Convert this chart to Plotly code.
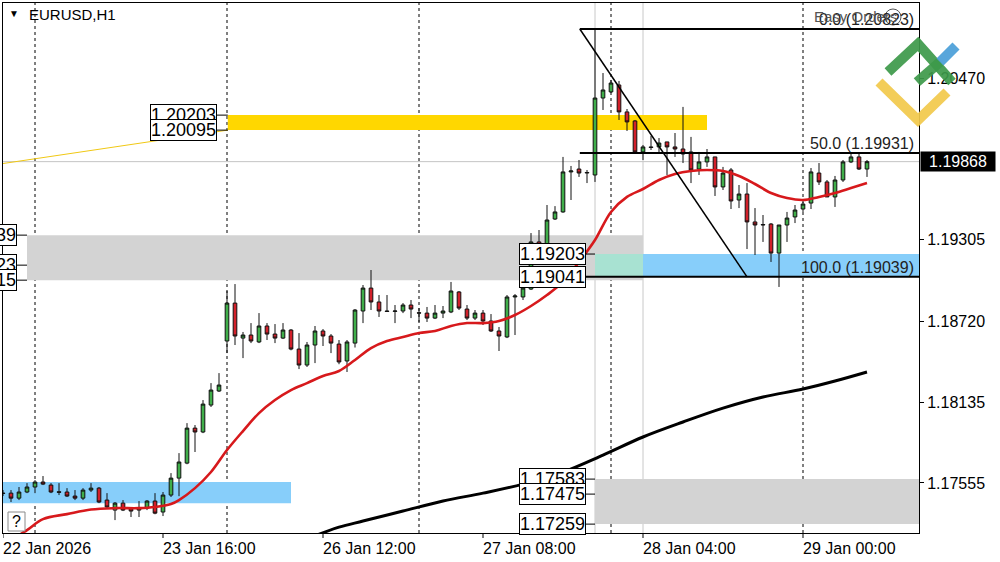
import plotly.graph_objects as go

FONT = "Liberation Sans"

# --- candles: bar index 0 = 22 Jan 20:00 (H1) -------------------------------
bars = list(range(109))

opens = [
    1.17482, 1.17482, 1.17446, 1.17490, 1.17526, 1.17562, 1.17540, 1.17492, 1.17490, 1.17461,
    1.17446, 1.17504, 1.17518, 1.17432, 1.17360, 1.17410, 1.17374, 1.17360, 1.17374, 1.17425,
    1.17346, 1.17468, 1.17590, 1.17698, 1.17950, 1.17922, 1.18116, 1.18217, 1.18577, 1.18850,
    1.18598, 1.18620, 1.18570, 1.18685, 1.18627, 1.18598, 1.18656, 1.18519, 1.18404, 1.18548,
    1.18649, 1.18613, 1.18555, 1.18433, 1.18562, 1.18793, 1.18958, 1.18858, 1.18793, 1.18790,
    1.18793, 1.18836, 1.18780, 1.18778, 1.18742, 1.18778, 1.18786, 1.18930, 1.18807, 1.18742,
    1.18778, 1.18721, 1.18649, 1.18606, 1.18894, 1.18894, 1.18951, 1.19290, 1.19232, 1.19455,
    1.19506, 1.19794, 1.19815, 1.19786, 1.19772, 1.20326, 1.20370, 1.20420, 1.20226, 1.20161,
    1.19938, 1.19974, 1.19974, 1.20010, 1.19974, 1.19959, 1.19938, 1.19815, 1.19866, 1.19902,
    1.19686, 1.19808, 1.19592, 1.19635, 1.19434, 1.19412, 1.19419, 1.19210, 1.19412, 1.19470,
    1.19527, 1.19570, 1.19786, 1.19722, 1.19614, 1.19736, 1.19866, 1.19902, 1.19815,
]
highs = [
    1.17504, 1.17504, 1.17526, 1.17554, 1.17576, 1.17605, 1.17554, 1.17554, 1.17518, 1.17504,
    1.17518, 1.17554, 1.17526, 1.17482, 1.17418, 1.17432, 1.17382, 1.17425, 1.17432, 1.17482,
    1.17490, 1.17626, 1.17770, 1.17986, 1.17972, 1.18152, 1.18274, 1.18346, 1.18937, 1.18987,
    1.18642, 1.18706, 1.18778, 1.18706, 1.18699, 1.18706, 1.18663, 1.18634, 1.18570, 1.18685,
    1.18663, 1.18627, 1.18584, 1.18584, 1.18807, 1.18980, 1.19088, 1.18908, 1.18908, 1.18836,
    1.18850, 1.18872, 1.18814, 1.18822, 1.18836, 1.18829, 1.19002, 1.18937, 1.18836, 1.18800,
    1.18800, 1.18771, 1.18678, 1.18908, 1.18915, 1.18980, 1.19354, 1.19376, 1.19556, 1.19548,
    1.19902, 1.19837, 1.19880, 1.19808, 1.20823, 1.20506, 1.20456, 1.20449, 1.20247, 1.20168,
    1.19988, 1.20053, 1.20038, 1.20010, 1.20074, 1.20262, 1.20046, 1.19938, 1.19959, 1.19902,
    1.19830, 1.19822, 1.19700, 1.19714, 1.19534, 1.19484, 1.19426, 1.19412, 1.19506, 1.19556,
    1.19578, 1.19822, 1.19858, 1.19736, 1.19765, 1.19880, 1.19923, 1.19930, 1.19880,
]
lows = [
    1.17461, 1.17418, 1.17432, 1.17482, 1.17482, 1.17540, 1.17482, 1.17468, 1.17454, 1.17432,
    1.17432, 1.17490, 1.17410, 1.17374, 1.17288, 1.17353, 1.17310, 1.17310, 1.17360, 1.17330,
    1.17317, 1.17454, 1.17460, 1.17690, 1.17778, 1.17914, 1.18102, 1.18210, 1.18490, 1.18548,
    1.18454, 1.18562, 1.18562, 1.18584, 1.18562, 1.18591, 1.18510, 1.18375, 1.18390, 1.18418,
    1.18541, 1.18490, 1.18410, 1.18354, 1.18530, 1.18706, 1.18800, 1.18750, 1.18786, 1.18706,
    1.18778, 1.18742, 1.18714, 1.18714, 1.18735, 1.18742, 1.18778, 1.18800, 1.18728, 1.18728,
    1.18692, 1.18642, 1.18505, 1.18598, 1.18620, 1.18872, 1.18944, 1.19218, 1.19225, 1.19448,
    1.19500, 1.19592, 1.19758, 1.19714, 1.19722, 1.20240, 1.20362, 1.20168, 1.20089, 1.19930,
    1.19880, 1.19952, 1.19930, 1.19772, 1.19902, 1.19858, 1.19714, 1.19772, 1.19830, 1.19621,
    1.19664, 1.19527, 1.19534, 1.19239, 1.19196, 1.19290, 1.19146, 1.18966, 1.19290, 1.19426,
    1.19506, 1.19527, 1.19700, 1.19614, 1.19542, 1.19722, 1.19858, 1.19808, 1.19758,
]
closes = [
    1.17480, 1.17446, 1.17490, 1.17526, 1.17562, 1.17547, 1.17490, 1.17488, 1.17461, 1.17446,
    1.17504, 1.17518, 1.17418, 1.17382, 1.17410, 1.17360, 1.17353, 1.17374, 1.17425, 1.17338,
    1.17468, 1.17590, 1.17706, 1.17950, 1.17922, 1.18123, 1.18224, 1.18260, 1.18850, 1.18613,
    1.18620, 1.18577, 1.18685, 1.18627, 1.18598, 1.18656, 1.18519, 1.18404, 1.18548, 1.18649,
    1.18613, 1.18562, 1.18426, 1.18570, 1.18800, 1.18958, 1.18858, 1.18793, 1.18790, 1.18793,
    1.18836, 1.18807, 1.18778, 1.18742, 1.18778, 1.18793, 1.18937, 1.18814, 1.18742, 1.18778,
    1.18721, 1.18649, 1.18613, 1.18894, 1.18901, 1.18958, 1.19290, 1.19232, 1.19448, 1.19506,
    1.19794, 1.19801, 1.19786, 1.19790, 1.20326, 1.20384, 1.20434, 1.20226, 1.20154, 1.19938,
    1.19974, 1.19970, 1.20002, 1.19974, 1.19959, 1.19923, 1.19808, 1.19866, 1.19902, 1.19686,
    1.19786, 1.19585, 1.19635, 1.19434, 1.19412, 1.19415, 1.19210, 1.19412, 1.19462, 1.19520,
    1.19563, 1.19794, 1.19722, 1.19614, 1.19736, 1.19866, 1.19902, 1.19815, 1.19868,
]

# moving averages
ma_fast_bar = [1, 3, 5, 8, 11, 14, 17, 19, 21, 22, 24, 26, 28, 30, 32, 34, 36, 38, 40, 42,
               44, 46, 48, 50, 52, 54, 56, 58, 60, 62, 64, 66, 68, 70, 72, 74, 76, 78, 80,
               82, 84, 86, 88, 90, 92, 94, 96, 98, 100, 102, 104, 106, 108]
ma_fast_val = [1.17144, 1.17216, 1.17295, 1.17331, 1.17364, 1.17374, 1.17374, 1.17382, 1.17403,
               1.17432, 1.17518, 1.17634, 1.17792, 1.17929, 1.18058, 1.18152, 1.18224, 1.18274,
               1.18325, 1.18361, 1.18440, 1.18526, 1.18577, 1.18606, 1.18634, 1.18649, 1.18685,
               1.18706, 1.18706, 1.18721, 1.18764, 1.18829, 1.18908, 1.19002, 1.19146, 1.19304,
               1.19506, 1.19614, 1.19671, 1.19736, 1.19779, 1.19801, 1.19808, 1.19801, 1.19765,
               1.19707, 1.19642, 1.19606, 1.19592, 1.19614, 1.19642, 1.19678, 1.19714]
ma_slow_bar = [39, 42, 45, 50, 55, 60, 65, 70, 75, 80, 85, 90, 95, 100, 104, 108]
ma_slow_val = [1.17175, 1.17237, 1.17281, 1.17353, 1.17425, 1.17482, 1.17547, 1.17634,
               1.17756, 1.17886, 1.17994, 1.18094, 1.18174, 1.18231, 1.18289, 1.18354]

# axis
price_ticks = [1.17555, 1.18135, 1.18720, 1.19305, 1.20470]
time_tick_bars = [0, 20, 40, 60, 80, 100]
time_tick_text = ["22 Jan 2026", "23 Jan 16:00", "26 Jan 12:00", "27 Jan 08:00",
                  "28 Jan 04:00", "29 Jan 00:00"]
day_separator_bars = [4, 28, 52, 76, 100]
bid_price = 1.19868

# fibonacci (bar, price) anchors
fib_start = (72.1, 1.20823)
fib_end = (93.0, 1.19039)
fib_levels = [0.0, 50.0, 100.0]

# zones: (bar0, bar1, price_low, price_high)
yellow_zone = (28.1, 88.0, 1.20095, 1.20203)
grey_zone = (3.0, 80.0, 1.19015, 1.19339)
blue_zone = (74.0, 130.0, 1.19041, 1.19203)
grey_zone_low = (74.0, 130.0, 1.17259, 1.17583)
blue_zone_low = (-5.0, 36.0, 1.17410, 1.17562)
gold_trend = ((-0.4, 1.19851), (28.1, 1.20095))

X_RANGE = [0, 114.5]
Y_RANGE = [1.17195, 1.21010]

# plot area in pixels: x 3..919, y 3..533
def px(x):
    return (x - 3) / 916


def py(y):
    return (533 - y) / 530


fig = go.Figure()
fig.add_trace(go.Candlestick(
    x=bars, open=opens, high=highs, low=lows, close=closes,
    increasing=dict(line=dict(color="#111111", width=1), fillcolor="#3fae49"),
    decreasing=dict(line=dict(color="#111111", width=1), fillcolor="#d2202a"),
    whiskerwidth=0, showlegend=False, hoverinfo="skip",
))
fig.add_scatter(x=ma_fast_bar, y=ma_fast_val, mode="lines",
                line=dict(color="#d7191c", width=2.6, shape="spline"), showlegend=False)
fig.add_scatter(x=ma_slow_bar, y=ma_slow_val, mode="lines",
                line=dict(color="#000000", width=3, shape="spline"), showlegend=False)

shapes = []


def rect(zone, color):
    b0, b1, lo, hi = zone
    shapes.append(dict(type="rect", xref="x", yref="y", x0=b0, x1=b1, y0=lo, y1=hi,
                       fillcolor=color, line=dict(width=0), layer="below"))


rect(yellow_zone, "#ffd700")
rect(grey_zone, "#d3d3d3")
rect(blue_zone, "#87cefa")
rect(grey_zone_low, "#d3d3d3")
rect(blue_zone_low, "#87cefa")
# overlap of grey and blue zones
rect((blue_zone[0], grey_zone[1], blue_zone[2], blue_zone[3]), "#a8e2d2")

# bid line and vertical guides
shapes.append(dict(type="line", xref="paper", yref="y", x0=0, x1=1, y0=bid_price, y1=bid_price,
                   line=dict(color="#c4c4c4", width=1), layer="below"))
for b in (74, 80):
    shapes.append(dict(type="line", xref="x", yref="paper", x0=b, x1=b, y0=0, y1=1,
                       line=dict(color="#c8c8c8", width=1), layer="below"))
for b in day_separator_bars:
    shapes.append(dict(type="line", xref="x", yref="paper", x0=b, x1=b, y0=0, y1=1,
                       line=dict(color="#000000", width=1, dash="3px,3px"), layer="below"))

# gold trendline
(t0, p0), (t1, p1) = gold_trend
shapes.append(dict(type="line", xref="x", yref="y", x0=t0, y0=p0, x1=t1, y1=p1,
                   line=dict(color="#f0c814", width=1)))

# fibonacci retracement
(fb0, fp0), (fb1, fp1) = fib_start, fib_end
shapes.append(dict(type="line", xref="x", yref="y", x0=fb0, y0=fp0, x1=fb1, y1=fp1,
                   line=dict(color="#000000", width=1.5)))
annotations = []
for lvl in fib_levels:
    price = round(fp0 + (fp1 - fp0) * lvl / 100, 5)
    shapes.append(dict(type="line", xref="x", yref="y", x0=fb0, x1=130, y0=price, y1=price,
                       line=dict(color="#000000", width=2)))
    annotations.append(dict(xref="paper", yref="y", x=1, y=price, xanchor="right",
                            yanchor="bottom", xshift=-3, yshift=-1, showarrow=False,
                            text=f"{lvl:.1f} ({price:.5f})",
                            font=dict(family=FONT, size=16, color="#222222")))


def price_label(bar, price, gap):
    shapes.append(dict(type="line", xref="x", yref="y", x0=bar - gap / 8, x1=bar,
                       y0=price, y1=price, line=dict(color="#000000", width=1)))
    annotations.append(dict(xref="x", yref="y", x=bar, y=price, xanchor="right",
                            yanchor="middle", xshift=-gap, showarrow=False,
                            text=f"{price:.5f}", bgcolor="white", bordercolor="#000000",
                            borderwidth=1, borderpad=0,
                            font=dict(family=FONT, size=18, color="#000000")))


for p in (1.20203, 1.20095):
    price_label(yellow_zone[0], p, 11)
for p in (1.19339, 1.19123, 1.19015):
    price_label(grey_zone[0], p, 10)
for p in (1.19203, 1.19041, 1.17583, 1.17475, 1.17259):
    price_label(74.0, p, 9)

# x axis labels (left aligned, MT4 style) with tick marks
for b, t in zip(time_tick_bars, time_tick_text):
    shapes.append(dict(type="line", xref="x", yref="paper", x0=b, x1=b, y0=0, y1=-5 / 530,
                       line=dict(color="#000000", width=1)))
    annotations.append(dict(xref="x", yref="paper", x=b, y=py(548), xanchor="left",
                            yanchor="middle", showarrow=False, text=t, xshift=-2,
                            font=dict(family=FONT, size=16, color="#000000")))

# current price box
annotations.append(dict(xref="paper", yref="y", x=1, y=bid_price, xanchor="left",
                        yanchor="middle", xshift=1, showarrow=False, text=f"{bid_price:.5f}",
                        bgcolor="#000000", width=74, height=19, borderpad=0,
                        font=dict(family=FONT, size=16, color="#ffffff")))

# title and small widgets
annotations.append(dict(xref="paper", yref="paper", x=px(27), y=py(15), xanchor="left",
                        yanchor="middle", showarrow=False, text="EURUSD,H1",
                        font=dict(family=FONT, size=15, color="#000000")))
annotations.append(dict(xref="paper", yref="paper", x=px(14), y=py(14), xanchor="center",
                        yanchor="middle", showarrow=False, text="▼",
                        font=dict(family=FONT, size=10, color="#000000")))
annotations.append(dict(xref="paper", yref="paper", x=px(812), y=py(17), xanchor="left",
                        yanchor="middle", showarrow=False, text="Easy Orders",
                        font=dict(family=FONT, size=15, color="#555555")))
shapes.append(dict(type="circle", xref="paper", yref="paper", x0=px(885), x1=px(901),
                   y0=py(25), y1=py(9), line=dict(color="#555555", width=1)))
shapes.append(dict(type="rect", xref="paper", yref="paper", x0=px(8), x1=px(25),
                   y0=py(531), y1=py(512), fillcolor="white", line=dict(color="#8a8a8a", width=1)))
annotations.append(dict(xref="paper", yref="paper", x=px(16.5), y=py(521.5), xanchor="center",
                        yanchor="middle", showarrow=False, text="?",
                        font=dict(family=FONT, size=16, color="#000000")))


# logo
def path(points):
    return "M " + " L ".join(f"{px(x)},{py(y)}" for x, y in points)


logo = [
    ([(879, 82), (918, 120), (947, 92)], "#f2c94c"),
    ([(888, 72), (918, 44), (952, 82)], "#3d9a4a"),
    ([(917, 82), (940, 62)], "#3d9a4a"),
    ([(940, 62), (956, 46)], "#4a9fd8"),
]
for pts, color in logo:
    shapes.append(dict(type="path", xref="paper", yref="paper", path=path(pts),
                       line=dict(color=color, width=10), opacity=0.92))

fig.update_layout(
    width=1000, height=562,
    margin=dict(l=3, r=81, t=3, b=29),
    paper_bgcolor="white", plot_bgcolor="white",
    showlegend=False, boxgap=0.35,
    shapes=shapes, annotations=annotations,
    xaxis=dict(range=X_RANGE, showgrid=False, zeroline=False, showticklabels=False,
               rangeslider=dict(visible=False), showline=True, mirror=True,
               linecolor="#000000", linewidth=1, fixedrange=True),
    yaxis=dict(range=Y_RANGE, side="right", showgrid=False, zeroline=False,
               tickvals=price_ticks, ticktext=[f"{v:.5f}" for v in price_ticks],
               ticks="outside", ticklen=4, tickcolor="#000000",
               tickfont=dict(family=FONT, size=16, color="#000000"),
               showline=True, mirror=True, linecolor="#000000", linewidth=1),
)

# the page's default body margin would shift the figure by 8px
fig.write_html("out.html", config={"displayModeBar": False},
               post_script="document.body.style.margin='0';")
